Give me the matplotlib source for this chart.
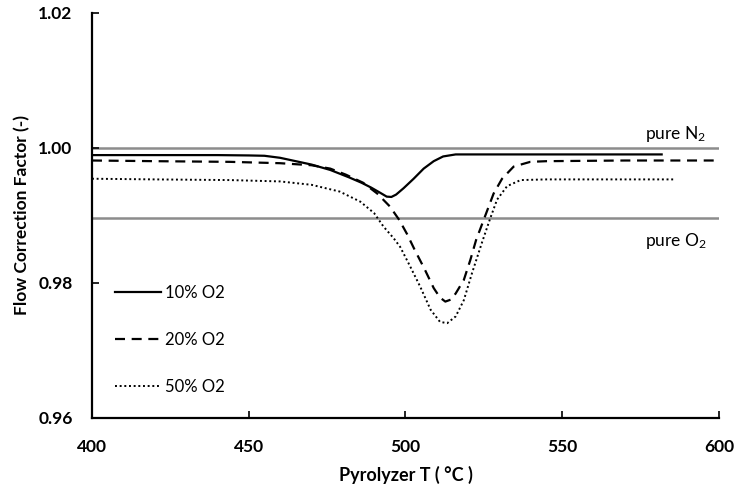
import numpy as np
import matplotlib
matplotlib.use("Agg")
import matplotlib.pyplot as plt

plt.rcParams['font.family'] = ['Lato', 'DejaVu Sans']
plt.rcParams['mathtext.default'] = 'regular'

# 10% O2
t10 = [400, 420, 440, 450, 455, 460, 465, 470, 476, 482, 486, 489, 492, 494, 495.5, 497, 499.4, 502.6, 505.8, 509, 512, 516, 520, 540, 560, 581.7]
f10 = [0.9989, 0.9989, 0.9989, 0.99885, 0.9988, 0.9985, 0.9980, 0.9975, 0.9967, 0.9956, 0.9948, 0.9941, 0.9933, 0.99275, 0.9927, 0.99305, 0.9940, 0.9954, 0.9969, 0.9980, 0.9987, 0.9990, 0.9990, 0.9990, 0.9990, 0.9990]

# 20% O2
t20 = [400, 420, 444, 460, 470, 476, 481, 486.5, 491, 495, 498, 500.5, 503, 506, 509, 511, 512.7, 514.5, 516, 518.6, 520.7, 522.5, 525.5, 528.1, 530.8, 534.5, 539.8, 545, 570, 600]
f20 = [0.9981, 0.9980, 0.9979, 0.9977, 0.9974, 0.9969, 0.9960, 0.9948, 0.9932, 0.9913, 0.9893, 0.9872, 0.9848, 0.9821, 0.9792, 0.9778, 0.9772, 0.9775, 0.9784, 0.9804, 0.9834, 0.9863, 0.9900, 0.9932, 0.9954, 0.9972, 0.9979, 0.9980, 0.9981, 0.9981]

# 50% O2
t50 = [400, 420, 444, 460, 470, 479, 485.6, 490, 493, 496.2, 498.3, 501.5, 504.7, 508, 511, 513.3, 516, 518.6, 521.2, 524.5, 527, 529.2, 532.4, 536.7, 545, 560, 586]
f50 = [0.9954, 0.9953, 0.9952, 0.9950, 0.9945, 0.9935, 0.9920, 0.9903, 0.9883, 0.9866, 0.9853, 0.9824, 0.9794, 0.9760, 0.9742, 0.9740, 0.9750, 0.9774, 0.9814, 0.9861, 0.9895, 0.9923, 0.9943, 0.9952, 0.9953, 0.9953, 0.9953]

pure_n2 = 1.000
pure_o2 = 0.9896

fig = plt.figure(figsize=(7.34, 4.87), dpi=100)
ax = fig.add_axes([0.1253, 0.1423, 0.8543, 0.8317])

ax.axhline(pure_n2, color='#8c8c8c', lw=1.8, zorder=1)
ax.axhline(pure_o2, color='#8c8c8c', lw=1.8, zorder=1)

ax.plot(t10, f10, color='black', lw=1.6, ls='-', label='10% O2')
ax.plot(t20, f20, color='black', lw=1.6, ls=(0, (4.5, 3)), label='20% O2')
ax.plot(t50, f50, color='black', lw=1.4, ls=(0, (1, 1.4)), label='50% O2')

ax.set_xlim(400, 600)
ax.set_ylim(0.96, 1.02)
ax.set_xticks([400, 450, 500, 550, 600])
ax.set_yticks([0.96, 0.98, 1.00, 1.02])
ax.set_yticklabels(['0.96', '0.98', '1.00', '1.02'])
ax.tick_params(direction='in', length=5, width=1.2, labelsize=12.5)
ax.tick_params(axis='x', pad=15)
ax.tick_params(axis='y', pad=14)
for lab in ax.get_xticklabels() + ax.get_yticklabels():
    lab.set_fontweight('bold')
ax.spines['top'].set_visible(False)
ax.spines['right'].set_visible(False)
ax.spines['left'].set_linewidth(1.6)
ax.spines['bottom'].set_linewidth(1.6)

ax.set_xlabel('Pyrolyzer T ( °C )', fontsize=13, fontweight='bold', labelpad=8)
ax.set_ylabel('Flow Correction Factor (-)', fontsize=12.5, fontweight='bold', labelpad=6)

ax.text(596, 1.0006, 'pure N$_2$', ha='right', va='bottom', fontsize=12.5)
ax.text(596, 0.9877, 'pure O$_2$', ha='right', va='top', fontsize=12.5)

ax.legend(loc='upper left', bbox_to_anchor=(0.036, 0.328), frameon=False, fontsize=12,
          handlelength=2.8, handletextpad=0.25, labelspacing=1.85,
          borderpad=0, borderaxespad=0)

fig.savefig('out.png', dpi=100)
